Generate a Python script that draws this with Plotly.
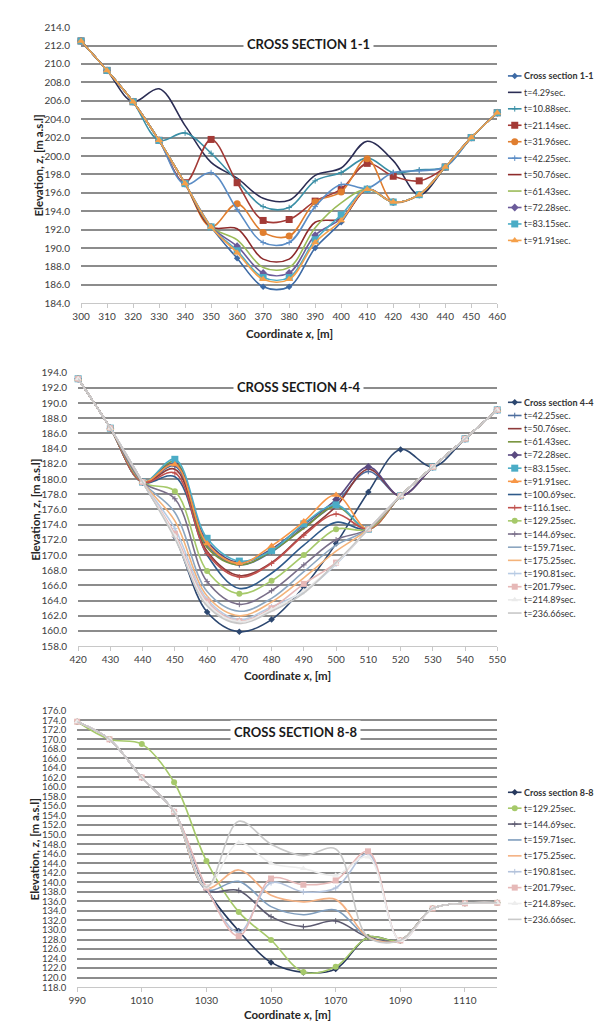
import plotly.graph_objects as go

W, H = 605, 1023
FONT = "Lato"

# ---------------- Panel 1: CROSS SECTION 1-1 ----------------
x1 = [300, 310, 320, 330, 340, 350, 360, 370, 380, 390, 400, 410, 420, 430, 440, 450, 460]
cs11   = [212.5, 209.3, 205.9, 201.7, 197.0, 192.3, 188.9, 185.8, 185.8, 190.0, 192.8, 196.4, 195.0, 195.8, 198.8, 202.0, 204.7]
p1_t429  = [212.5, 209.3, 205.9, 207.3, 203.3, 199.3, 197.6, 195.4, 195.2, 197.9, 198.7, 201.6, 199.5, 195.8, 198.8, 202.0, 204.7]
p1_t1088 = [212.5, 209.3, 205.9, 201.7, 202.5, 200.3, 197.3, 194.5, 194.4, 197.3, 198.2, 199.8, 198.2, 198.5, 198.8, 202.0, 204.7]
p1_t2114 = [212.5, 209.3, 205.9, 201.7, 197.1, 201.8, 197.1, 193.0, 193.1, 195.1, 196.4, 199.2, 197.8, 197.3, 198.8, 202.0, 204.7]
p1_t3196 = [212.5, 209.3, 205.9, 201.7, 197.0, 192.3, 194.8, 191.7, 191.3, 195.0, 196.1, 199.7, 195.0, 195.8, 198.8, 202.0, 204.7]
p1_t4225 = [212.5, 209.3, 205.9, 201.7, 196.9, 198.2, 194.2, 190.6, 190.6, 194.5, 196.9, 196.5, 198.2, 198.4, 198.8, 202.0, 204.7]
p1_t5076 = [212.5, 209.3, 205.9, 201.7, 197.0, 192.3, 192.1, 188.8, 188.8, 192.8, 193.2, 196.4, 195.0, 195.8, 198.8, 202.0, 204.7]
p1_t6143 = [212.5, 209.3, 205.9, 201.7, 197.0, 192.3, 190.9, 187.9, 187.9, 192.2, 194.9, 196.4, 195.0, 195.8, 198.8, 202.0, 204.7]
p1_t7228 = [212.5, 209.3, 205.9, 201.7, 197.0, 192.3, 190.2, 187.3, 187.3, 191.4, 193.2, 196.4, 195.0, 195.8, 198.8, 202.0, 204.7]
p1_t8315 = [212.5, 209.3, 205.9, 201.7, 197.0, 192.3, 189.7, 186.8, 186.8, 190.9, 193.6, 196.4, 195.0, 195.8, 198.8, 202.0, 204.7]
p1_t9191 = [212.5, 209.3, 205.9, 201.7, 197.0, 192.3, 189.5, 186.6, 186.6, 190.6, 193.0, 196.4, 195.0, 195.8, 198.8, 202.0, 204.7]

# ---------------- Panel 2: CROSS SECTION 4-4 ----------------
x2 = [420, 430, 440, 450, 460, 470, 480, 490, 500, 510, 520, 530, 540, 550]
cs44      = [193.2, 186.7, 179.6, 172.4, 162.5, 159.9, 161.5, 165.8, 171.5, 178.3, 183.9, 181.6, 185.3, 189.1]
p2_t4225  = [193.2, 186.7, 179.6, 181.7, 171.3, 168.7, 170.4, 173.7, 176.9, 181.0, 177.8, 181.6, 185.3, 189.1]
p2_t5076  = [193.2, 186.7, 179.6, 181.3, 170.5, 167.3, 169.0, 172.8, 176.4, 181.3, 177.8, 181.6, 185.3, 189.1]
p2_t6143  = [193.2, 186.7, 179.6, 182.3, 171.0, 168.7, 170.5, 173.5, 176.4, 173.4, 177.8, 181.6, 185.3, 189.1]
p2_t7228  = [193.2, 186.7, 179.6, 182.0, 171.8, 169.0, 170.8, 174.0, 177.3, 181.6, 177.8, 181.6, 185.3, 189.1]
p2_t8315  = [193.2, 186.7, 179.6, 182.6, 172.2, 169.2, 170.6, 174.1, 176.6, 173.4, 177.8, 181.6, 185.3, 189.1]
p2_t9191  = [193.2, 186.7, 179.6, 181.9, 171.5, 168.9, 171.2, 174.4, 177.9, 173.4, 177.8, 181.6, 185.3, 189.1]
p2_t10069 = [193.2, 186.7, 179.6, 180.3, 170.0, 165.6, 167.6, 171.3, 174.3, 173.4, 177.8, 181.6, 185.3, 189.1]
p2_t1161  = [193.2, 186.7, 179.6, 180.8, 170.2, 167.1, 168.9, 172.6, 175.4, 173.4, 177.8, 181.6, 185.3, 189.1]
p2_t12925 = [193.2, 186.7, 179.6, 178.4, 167.9, 164.9, 166.6, 170.0, 173.4, 173.4, 177.8, 181.6, 185.3, 189.1]
p2_t14469 = [193.2, 186.7, 179.6, 177.4, 166.5, 163.5, 165.3, 168.7, 172.0, 173.4, 177.8, 181.6, 185.3, 189.1]
p2_t15971 = [193.2, 186.7, 179.6, 175.6, 165.2, 162.6, 164.3, 167.8, 171.3, 173.4, 177.8, 181.6, 185.3, 189.1]
p2_t17525 = [193.2, 186.7, 179.6, 174.5, 164.6, 162.0, 163.8, 167.0, 170.5, 173.4, 177.8, 181.6, 185.3, 189.1]
p2_t19081 = [193.2, 186.7, 179.6, 173.5, 164.2, 161.5, 163.2, 165.2, 168.8, 173.4, 177.8, 181.6, 185.3, 189.1]
p2_t20179 = [193.2, 186.7, 179.6, 172.8, 163.9, 161.3, 163.0, 166.2, 169.0, 173.4, 177.8, 181.6, 185.3, 189.1]
p2_t21489 = [193.2, 186.7, 179.6, 172.5, 163.6, 161.2, 162.8, 165.3, 168.9, 173.4, 177.8, 181.6, 185.3, 189.1]
p2_t23666 = [193.2, 186.7, 179.6, 172.2, 163.3, 161.0, 162.6, 165.0, 169.0, 173.4, 177.8, 181.6, 185.3, 189.1]

# ---------------- Panel 3: CROSS SECTION 8-8 ----------------
x3 = [990, 1000, 1010, 1020, 1030, 1040, 1050, 1060, 1070, 1080, 1090, 1100, 1110, 1120]
cs88      = [173.7, 170.0, 162.0, 154.8, 138.6, 129.8, 123.2, 121.1, 121.8, 128.5, 127.8, 134.5, 135.6, 135.7]
p3_t12925 = [173.7, 170.0, 169.0, 161.0, 144.5, 133.8, 127.9, 121.2, 122.3, 128.5, 127.8, 134.5, 135.6, 135.7]
p3_t14469 = [173.7, 170.0, 162.0, 154.8, 138.4, 138.3, 132.8, 130.7, 131.9, 128.5, 127.8, 134.5, 135.6, 135.7]
p3_t15971 = [173.7, 170.0, 162.0, 154.8, 138.5, 140.2, 134.9, 133.2, 134.2, 128.5, 127.8, 134.5, 135.6, 135.7]
p3_t17525 = [173.7, 170.0, 162.0, 154.8, 138.8, 142.6, 137.3, 135.9, 136.4, 128.5, 127.8, 134.5, 135.6, 135.7]
p3_t19081 = [173.7, 170.0, 162.0, 154.8, 138.8, 129.5, 139.9, 138.0, 138.8, 146.0, 127.8, 134.5, 135.6, 135.7]
p3_t20179 = [173.7, 170.0, 162.0, 154.8, 138.9, 128.7, 140.8, 139.5, 140.4, 146.5, 127.8, 134.5, 135.6, 135.7]
p3_t21489 = [173.7, 170.0, 162.0, 154.8, 139.0, 148.3, 144.0, 142.9, 141.5, 145.3, 127.8, 134.5, 135.6, 135.7]
p3_t23666 = [173.7, 170.0, 162.0, 154.8, 139.0, 152.8, 148.0, 145.6, 147.0, 128.5, 127.8, 134.5, 135.6, 135.7]

# (name, values, color, marker symbol, marker size)
panel1 = [
    ("Cross section 1-1", cs11, "#3D6AA5", "diamond", 5),
    ("t=4.29sec.", p1_t429, "#2B2D54", None, 0),
    ("t=10.88sec.", p1_t1088, "#3A8FA6", "cross-thin", 4),
    ("t=21.14sec.", p1_t2114, "#A33A36", "square", 7),
    ("t=31.96sec.", p1_t3196, "#E07E2F", "circle", 7),
    ("t=42.25sec.", p1_t4225, "#5B8DC6", "cross-thin", 4),
    ("t=50.76sec.", p1_t5076, "#8E2B2B", None, 0),
    ("t=61.43sec.", p1_t6143, "#9BBB59", None, 0),
    ("t=72.28sec.", p1_t7228, "#6B5B9A", "diamond", 6),
    ("t=83.15sec.", p1_t8315, "#4BACC6", "square", 7),
    ("t=91.91sec.", p1_t9191, "#F5A04A", "triangle-up", 7),
]
panel2 = [
    ("Cross section 4-4", cs44, "#2C4770", "diamond", 5),
    ("t=42.25sec.", p2_t4225, "#4D6E9E", "cross-thin", 4),
    ("t=50.76sec.", p2_t5076, "#8E3A3A", None, 0),
    ("t=61.43sec.", p2_t6143, "#77933C", None, 0),
    ("t=72.28sec.", p2_t7228, "#5A4A80", "diamond", 6),
    ("t=83.15sec.", p2_t8315, "#4BACC6", "square", 7),
    ("t=91.91sec.", p2_t9191, "#F79646", "triangle-up", 7),
    ("t=100.69sec.", p2_t10069, "#2F5A8A", None, 0),
    ("t=116.1sec.", p2_t1161, "#C0504D", "cross-thin", 4),
    ("t=129.25sec.", p2_t12925, "#A6C96A", "circle", 6),
    ("t=144.69sec.", p2_t14469, "#7A6F8A", "cross-thin", 4),
    ("t=159.71sec.", p2_t15971, "#8CA6C0", None, 0),
    ("t=175.25sec.", p2_t17525, "#F4B37A", None, 0),
    ("t=190.81sec.", p2_t19081, "#B8CCE4", "cross-thin", 4),
    ("t=201.79sec.", p2_t20179, "#E6B8B7", "square", 6),
    ("t=214.89sec.", p2_t21489, "#EAEAEA", "triangle-up", 6),
    ("t=236.66sec.", p2_t23666, "#C8C8C8", None, 0),
]
panel3 = [
    ("Cross section 8-8", cs88, "#27395E", "diamond", 5),
    ("t=129.25sec.", p3_t12925, "#A6C96A", "circle", 6),
    ("t=144.69sec.", p3_t14469, "#5C5A70", "cross-thin", 4),
    ("t=159.71sec.", p3_t15971, "#7F9DBD", None, 0),
    ("t=175.25sec.", p3_t17525, "#F4B183", None, 0),
    ("t=190.81sec.", p3_t19081, "#B4C3DC", "cross-thin", 4),
    ("t=201.79sec.", p3_t20179, "#E6B9B8", "square", 6),
    ("t=214.89sec.", p3_t21489, "#EDEDED", "triangle-up", 6),
    ("t=236.66sec.", p3_t23666, "#C9C9C9", None, 0),
]

# layout geometry (pixels)
panels = [
    dict(x=x1, series=panel1, px=(66, 495), py=(12.3, 292), yr=(184, 214), xr=(300, 460), xd=10,
         title="CROSS SECTION 1-1", tpos=(300, 29), leg0=61.7, legdy=16.66, xtitle_y=323, ytitle_x=22),
    dict(x=x2, series=panel2, px=(63, 495), py=(362.3, 639.3), yr=(158, 194), xr=(420, 550), xd=10,
         title="CROSS SECTION 4-4", tpos=(290, 376.7), leg0=392.3, legdy=13.34, xtitle_y=669, ytitle_x=19),
    dict(x=x3, series=panel3, px=(62, 495), py=(704.7, 984.7), yr=(118, 176), xr=(990, 1120), xd=20,
         title="CROSS SECTION 8-8", tpos=(287, 726), leg0=787.3, legdy=16.09, xtitle_y=1012, ytitle_x=19),
]

fig = go.Figure()
annotations = []
layout_axes = {}

for k, p in enumerate(panels, start=1):
    xa = "x" if k == 1 else f"x{k}"
    ya = "y" if k == 1 else f"y{k}"
    for name, vals, color, sym, msize in p["series"]:
        mode = "lines+markers" if sym else "lines"
        mk = dict(symbol=sym, size=msize, color=color,
                  line=dict(width=1.0 if sym == "cross-thin" else 0, color=color)) if sym else None
        fig.add_trace(go.Scatter(x=p["x"], y=vals, name=name, mode=mode,
                                 line=dict(color=color, width=1.6, shape="spline", smoothing=1.0),
                                 marker=mk, xaxis=xa, yaxis=ya, showlegend=False, cliponaxis=False))
    layout_axes["xaxis" if k == 1 else f"xaxis{k}"] = dict(
        domain=[p["px"][0] / W, p["px"][1] / W], range=list(p["xr"]), anchor=ya,
        tick0=p["xr"][0], dtick=p["xd"], showgrid=False, zeroline=False,
        showline=True, linecolor="#C8C8C8", linewidth=1, ticks="outside", ticklen=4,
        tickcolor="#C8C8C8", tickfont=dict(family=FONT, size=10, color="#404040"), fixedrange=True)
    layout_axes["yaxis" if k == 1 else f"yaxis{k}"] = dict(
        domain=[1 - p["py"][1] / H, 1 - p["py"][0] / H], range=list(p["yr"]), anchor=xa,
        tick0=p["yr"][0], dtick=2, tickformat=".1f", showgrid=True, gridcolor="#8C8C8C",
        gridwidth=1.5, zeroline=False, showline=False, ticks="outside", ticklen=8,
        tickcolor="rgba(0,0,0,0)",
        tickfont=dict(family=FONT, size=10 if k < 3 else 9.5, color="#404040"), fixedrange=True)

    # chart title with white box that interrupts gridlines
    annotations.append(dict(text=f"<b>{p['title']}</b>", xref="paper", yref="paper",
                            x=p["tpos"][0] / W, y=1 - p["tpos"][1] / H, showarrow=False,
                            font=dict(family=FONT, size=13, color="#1A1A1A"),
                            bgcolor="white", borderpad=3, xanchor="center", yanchor="middle"))
    # axis titles
    annotations.append(dict(text="<b>Coordinate <i>x</i>, [m]</b>", xref="paper", yref="paper",
                            x=(p["px"][0] + p["px"][1]) / 2 / W, y=1 - p["xtitle_y"] / H,
                            showarrow=False, font=dict(family=FONT, size=11.5, color="#262626"),
                            xanchor="center", yanchor="middle"))
    annotations.append(dict(text="<b>Elevation, <i>z</i>, [m a.s.l]</b>", xref="paper", yref="paper",
                            x=p["ytitle_x"] / W, y=1 - (p["py"][0] + p["py"][1]) / 2 / H,
                            textangle=-90, showarrow=False,
                            font=dict(family=FONT, size=11.5, color="#262626"),
                            xanchor="center", yanchor="middle"))

    # legend (drawn on a full-page pixel overlay axis)
    for i, (name, vals, color, sym, msize) in enumerate(p["series"]):
        ly = p["leg0"] + i * p["legdy"]
        fig.add_trace(go.Scatter(x=[506, 520], y=[ly, ly], mode="lines",
                                 line=dict(color=color, width=1.6), xaxis="x4", yaxis="y4",
                                 showlegend=False, hoverinfo="skip"))
        if sym:
            fig.add_trace(go.Scatter(x=[513], y=[ly], mode="markers",
                                     marker=dict(symbol=sym, size=msize, color=color,
                                                 line=dict(width=1.0 if sym == "cross-thin" else 0, color=color)),
                                     xaxis="x4", yaxis="y4", showlegend=False, hoverinfo="skip"))
        label = f"<b>{name}</b>" if i == 0 else name
        annotations.append(dict(text=label, xref="paper", yref="paper", x=521 / W, y=1 - ly / H,
                                showarrow=False, xanchor="left", yanchor="middle",
                                font=dict(family=FONT, size=9, color="#333333")))

layout_axes["xaxis4"] = dict(domain=[0, 1], range=[0, W], visible=False, anchor="y4", fixedrange=True)
layout_axes["yaxis4"] = dict(domain=[0, 1], range=[H, 0], visible=False, anchor="x4", fixedrange=True)

fig.update_layout(width=W, height=H, margin=dict(l=0, r=0, t=0, b=0),
                  paper_bgcolor="white", plot_bgcolor="rgba(0,0,0,0)",
                  showlegend=False, annotations=annotations, **layout_axes)

fig.write_html("out.html")
